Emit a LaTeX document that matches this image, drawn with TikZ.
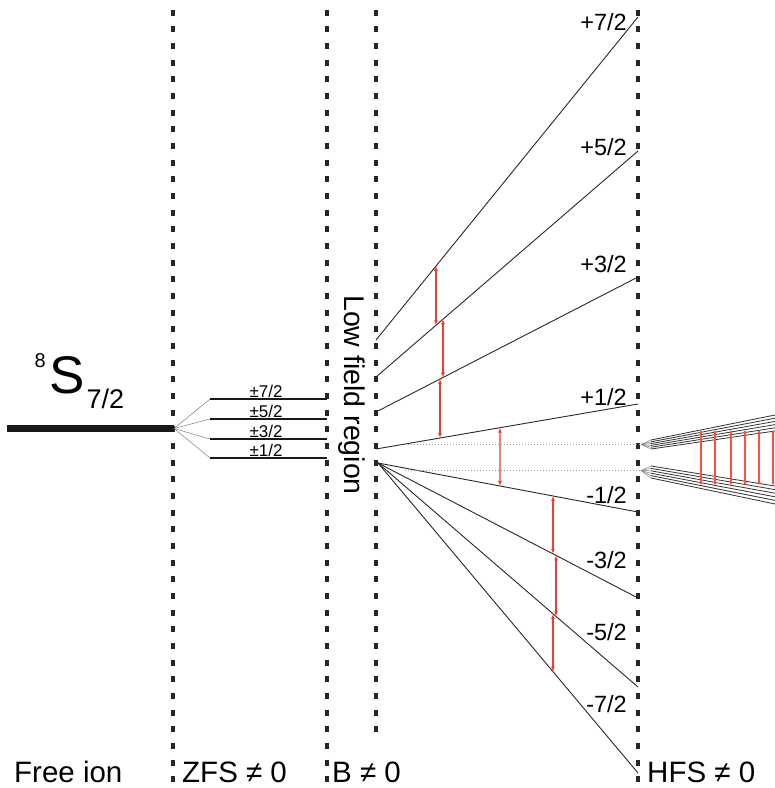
\documentclass[tikz,border=0pt]{standalone}
\usepackage{fontspec}
\setmainfont{Liberation Sans}
\usetikzlibrary{arrows.meta,calc}
\definecolor{arrred}{RGB}{238,60,50}
\definecolor{hfsred}{RGB}{250,80,60}
\definecolor{linegray}{RGB}{40,40,40}
\begin{document}
\begin{tikzpicture}[x=1pt,y=-1pt,
  sep/.style={line width=3.5pt, dash pattern=on 6pt off 10.67pt, black!85},
  level/.style={line width=1.8pt, black!90},
  fan/.style={line width=0.5pt, gray},
  zee/.style={line width=0.9pt, linegray},
  hfsline/.style={line width=0.8pt, black!80},
  dotl/.style={line width=0.8pt, gray!80, dash pattern=on 1.2pt off 1.8pt},
  trans/.style={line width=1.1pt, arrred, {Latex[length=5pt,width=4pt]}-{Latex[length=5pt,width=4pt]}},
  htrans/.style={line width=1.3pt, hfsred, {Latex[length=3pt,width=3.5pt]}-{Latex[length=3pt,width=3.5pt]}},
  lbl/.style={font=\fontsize{23.5}{24}\selectfont, inner sep=0pt, anchor=base east},
  pm/.style={font=\fontsize{17}{18}\selectfont, inner sep=0pt, anchor=base},
  bot/.style={font=\fontsize{29.5}{30}\selectfont, inner sep=0pt, anchor=base west},
]
\fill[white] (0,0) rectangle (775,788);
\useasboundingbox (0,0) rectangle (775,788);

% separators
\coordinate (s1t) at (173,9.5); \coordinate (s1b) at (173,785);
\coordinate (s2t) at (327,9.5); \coordinate (s2b) at (327,785);
\coordinate (s3t) at (376,9.5); \coordinate (s3b) at (376,735);
\coordinate (s4t) at (638,9.5); \coordinate (s4b) at (638,785);
\draw[sep] (s1t) -- (s1b);
\draw[sep] (s2t) -- (s2b);
\draw[sep] (s3t) -- (s3b);
\draw[sep] (s4t) -- (s4b);

% free ion
\coordinate (ion) at (7,428.5);
\coordinate (z0) at (174,428.5);
\draw[line width=7pt, black!90] (ion) -- (z0);
\node[inner sep=0pt, anchor=base west, font=\fontsize{53}{53}\selectfont] (symS) at (49,393) {S};
\node[inner sep=0pt, anchor=base west, font=\fontsize{20}{20}\selectfont] (sup8) at (34.5,367) {8};
\node[inner sep=0pt, anchor=base west, font=\fontsize{27}{27}\selectfont] (sub72) at (86.5,408) {7/2};

% ZFS levels
\foreach \n/\y/\t in {a/399/{±7/2}, b/419/{±5/2}, c/439/{±3/2}, d/458/{±1/2}}{
  \coordinate (zl\n) at (210,\y);
  \coordinate (zr\n) at (327,\y);
  \draw[fan] (z0) -- (zl\n);
  \draw[level] (zl\n) -- (zr\n);
  \node[pm] (zt\n) at (266,\y-2) {\t};
}

\node[font=\fontsize{28.5}{30}\selectfont, rotate=-90, inner sep=0pt] (low) at (352,395) {Low field region};

% Zeeman lines
\coordinate (p7s) at (376,340); \coordinate (p7e) at (638,17);
\coordinate (p5s) at (376,377); \coordinate (p5e) at (638,151);
\coordinate (p3s) at (376,412); \coordinate (p3e) at (638,277);
\coordinate (p1s) at (376,449); \coordinate (p1e) at (638,404);
\coordinate (ms) at (378,463);
\coordinate (m1e) at (638,512);
\coordinate (m3e) at (638,598);
\coordinate (m5e) at (638,687);
\coordinate (m7e) at (638,773);
\foreach \s/\e in {p7s/p7e, p5s/p5e, p3s/p3e, p1s/p1e, ms/m1e, ms/m3e, ms/m5e, ms/m7e}{
  \draw[zee] (\s) -- (\e);
}
\node[lbl] (l7p) at (627,30) {+7/2};
\node[lbl] (l5p) at (627,155) {+5/2};
\node[lbl] (l3p) at (627,272) {+3/2};
\node[lbl] (l1p) at (627,405) {+1/2};
\node[lbl] (l1m) at (627,503) {-1/2};
\node[lbl] (l3m) at (627,568) {-3/2};
\node[lbl] (l5m) at (627,640) {-5/2};
\node[lbl] (l7m) at (627,712) {-7/2};

% dotted reference lines
\coordinate (du0) at (405,444.5); \coordinate (hu) at (641,444.5);
\coordinate (dl0) at (405,470.5); \coordinate (hl) at (641,470.5);
\draw[dotl] (du0) -- (hu);
\draw[dotl] (dl0) -- (hl);

% EPR transitions
\draw[trans] ($(p7s)!0.229!(p7e)$) -- ($(p5s)!0.229!(p5e)$);
\draw[trans] ($(p5s)!0.2557!(p5e)$) -- ($(p3s)!0.2557!(p3e)$);
\draw[trans] ($(p3s)!0.2443!(p3e)$) -- ($(p1s)!0.2443!(p1e)$);
\draw[trans] ($(p1s)!0.4733!(p1e)$) -- ($(ms)!0.4692!(m1e)$);
\draw[trans] ($(ms)!0.673!(m1e)$) -- ($(ms)!0.673!(m3e)$);
\draw[trans] ($(ms)!0.6846!(m3e)$) -- ($(ms)!0.6846!(m5e)$);
\draw[trans] ($(ms)!0.673!(m5e)$) -- ($(ms)!0.673!(m7e)$);

% HFS
\foreach \i in {0,...,5}{
  \coordinate (hus\i) at (651,440+1.8*\i);
  \coordinate (hue\i) at (775,415+3.2*\i);
  \draw[fan] (hu) -- (hus\i);
  \draw[hfsline] (hus\i) -- (hue\i);
  \coordinate (hls\i) at (651,466+2.4*\i);
  \coordinate (hle\i) at (775,486+3.6*\i);
  \draw[fan] (hl) -- (hls\i);
  \draw[hfsline] (hls\i) -- (hle\i);
}
\foreach \k/\x in {1/701,2/715,3/731,4/745,5/759,6/773}{
  \coordinate (ht\k) at (\x,430);
  \coordinate (hb\k) at (\x,485);
  \draw[htrans] (ht\k) -- (hb\k);
}

% bottom labels
\node[bot] (free) at (14,782) {Free ion};
\node[bot] (zfs) at (182,782) {ZFS ≠ 0};
\node[bot] (bne) at (332,782) {B ≠ 0};
\node[bot] (hfs) at (647,782) {HFS ≠ 0};
\end{tikzpicture}
\end{document}
